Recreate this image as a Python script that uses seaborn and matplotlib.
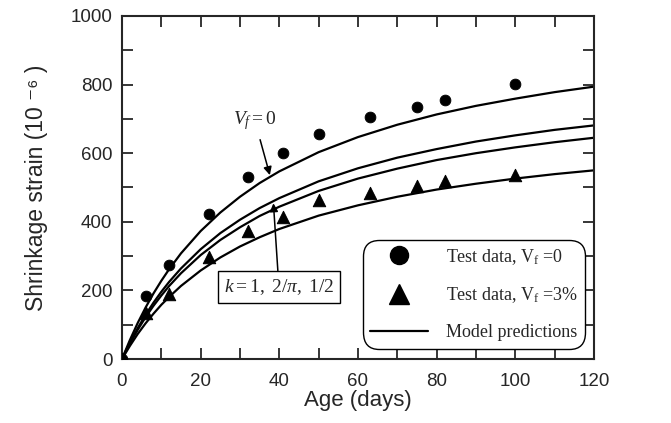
import matplotlib
matplotlib.use("Agg")
import matplotlib.pyplot as plt
import seaborn as sns
import pandas as pd
from matplotlib.lines import Line2D

# ---------------- data ----------------
age_test = [0, 6, 12, 22, 32, 41, 50, 63, 75, 82, 100]
strain_vf0 = [0, 184, 274, 422, 531, 600, 656, 706, 736, 755, 801]
strain_vf3 = [0, 135, 189, 296, 373, 415, 465, 485, 505, 520, 535]

age_model = [0, 2, 4, 6, 8, 10, 12, 15, 20, 25, 30, 35, 40, 50, 60, 70, 80, 90, 100, 110, 120]
model_vf0 = [0, 55, 105, 150, 191, 228, 262, 308, 373, 427, 473, 513, 547, 603, 647, 683, 713, 738, 759, 778, 794]
model_k1 = [0, 48, 90, 129, 164, 196, 225, 264, 320, 367, 406, 440, 469, 518, 556, 587, 612, 634, 652, 668, 681]
model_k2pi = [0, 45, 85, 122, 155, 185, 213, 250, 303, 347, 384, 417, 444, 490, 526, 555, 580, 600, 617, 632, 645]
model_khalf = [0, 38, 73, 104, 132, 158, 181, 213, 258, 296, 328, 355, 379, 418, 448, 473, 494, 511, 526, 539, 550]

x_ticks = [0, 20, 40, 60, 80, 100, 120]
y_ticks = [0, 200, 400, 600, 800, 1000]

# ---------------- style ----------------
sns.set_style("ticks")
plt.rcParams["font.family"] = ["Liberation Sans", "DejaVu Sans"]
plt.rcParams["mathtext.fontset"] = "custom"
plt.rcParams["mathtext.rm"] = "Liberation Serif"
plt.rcParams["mathtext.it"] = "Liberation Serif:italic"

fig = plt.figure(figsize=(6.71, 4.23), dpi=100)
ax = fig.add_axes([0.1818, 0.1513, 0.7034, 0.8109])

model_df = pd.DataFrame({
    "age": age_model * 4,
    "strain": model_vf0 + model_k1 + model_k2pi + model_khalf,
    "curve": ["vf0"] * len(age_model) + ["k1"] * len(age_model)
             + ["k2pi"] * len(age_model) + ["khalf"] * len(age_model),
})
for name, grp in model_df.groupby("curve", sort=False):
    sns.lineplot(data=grp, x="age", y="strain", color="black", lw=1.6,
                 ax=ax, legend=False, estimator=None)

sns.scatterplot(x=age_test, y=strain_vf0, marker="o", s=60, color="black",
                edgecolor="black", ax=ax, legend=False, zorder=3)
sns.scatterplot(x=age_test, y=strain_vf3, marker="^", s=80, color="black",
                edgecolor="black", ax=ax, legend=False, zorder=3)

ax.set_xlim(0, 120)
ax.set_ylim(0, 1000)
ax.set_xticks(x_ticks)
ax.set_yticks(y_ticks)
ax.set_xticks(range(0, 121, 10), minor=True)
ax.set_yticks(range(0, 1001, 100), minor=True)
ax.tick_params(which="both", direction="in", length=8, width=1.3,
               top=True, right=True, labelsize=13.5)
ax.tick_params(axis="x", which="major", pad=10)
ax.tick_params(axis="y", which="major", pad=7)
for s in ax.spines.values():
    s.set_linewidth(1.5)

ax.set_xlabel("Age (days)", fontsize=16, labelpad=0)
ax.set_ylabel("Shrinkage strain (10 \u207b\u2076 )", fontsize=16.5, labelpad=16)

# annotations
ax.annotate(r"$\mathit{V_f{=}0}$", xy=(37.6, 536), xytext=(33.8, 694),
            fontsize=14, ha="center", va="center",
            arrowprops=dict(arrowstyle="-|>", color="black", lw=1.1,
                            mutation_scale=12, shrinkA=3, shrinkB=0))
ax.annotate(r"$\mathit{k{=}1,\ 2/\pi,\ 1/2}$", xy=(38.5, 454), xytext=(39.9, 210),
            fontsize=14, ha="center", va="center",
            bbox=dict(boxstyle="square,pad=0.3", fc="white", ec="black", lw=1.0),
            arrowprops=dict(arrowstyle="-|>", color="black", lw=1.1,
                            mutation_scale=12, shrinkA=0, shrinkB=0))

handles = [
    Line2D([], [], marker="o", ls="none", color="black", markersize=13),
    Line2D([], [], marker="^", ls="none", color="black", markersize=14),
    Line2D([], [], color="black", lw=1.6),
]
labels = [r"Test data, V$_\mathrm{f}$ =0", r"Test data, V$_\mathrm{f}$ =3%", "Model predictions"]
leg = ax.legend(handles, labels, loc="lower right", bbox_to_anchor=(0.976, 0.038),
                prop={"family": "Liberation Serif", "size": 13},
                handlelength=3.2, handletextpad=1.0, labelspacing=1.05,
                borderpad=0.25, borderaxespad=0.0, frameon=True, fancybox=True,
                edgecolor="black", framealpha=1)
leg.get_frame().set_linewidth(1.0)
leg.get_frame().set_boxstyle("round,pad=0.15,rounding_size=0.9")

fig.savefig("out.png", dpi=100)
